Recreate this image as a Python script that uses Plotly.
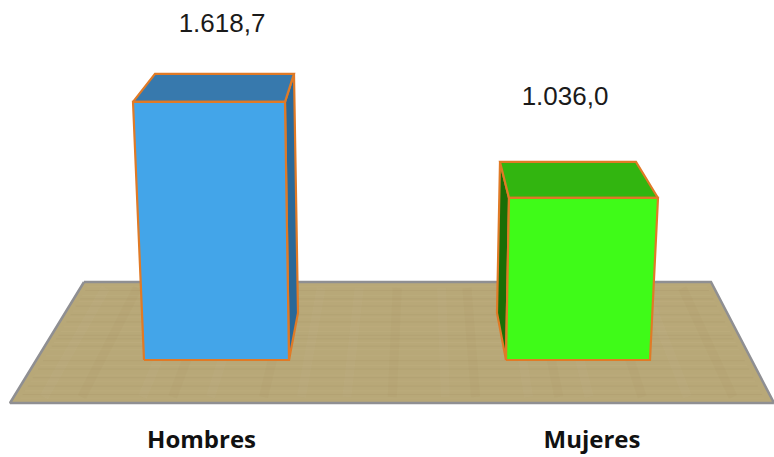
"""Barras 3D de Hombres / Mujeres sobre una base de madera, con Plotly 2D."""

import plotly.graph_objects as go

categories = ["Hombres", "Mujeres"]
values = [1618.7, 1036.0]

front_colors = ["#43a5e9", "#3ffb18"]
top_colors = ["#3779ad", "#32b510"]
side_colors = ["#2a6898", "#1a6e06"]
edge_color = "#e07a26"

# unidades de valor por pixel: el eje y va en valores, con 0 en la base de las barras
PX_PER_UNIT = 0.158
BASE_PX = 360
PLOT_BOTTOM_PX = 405
# la perspectiva estira un poco cada barra respecto a la escala comun
stretch = [1.009, 0.990]

# geometria de cada caja en pixeles de x: frente abajo/arriba
front_bottom = [(144, 289), (506, 650)]
front_top = [(133, 285), (509, 658)]
top_back = [(155, 294), (500, 636)]
top_depth = [28, 36]
# cara lateral: x arriba, x del quiebre, x abajo, y del quiebre
side_outer = [(294, 298, 289, 313), (500, 497, 506, 313)]

label_x = [222, 565]
label_px = [25, 98]
tick_x = [201.5, 592]

# base de madera
floor_top = (84, 711, 282)
floor_bottom = (10, 774, 403)
floor_color = "#b8a878"
floor_edge = "#8f8f92"
# vetas finas (profundidad) y manchas anchas (ancho) de la madera
grain_rows_light = [0.04, 0.11, 0.16, 0.24, 0.29, 0.37, 0.41, 0.5, 0.56, 0.61, 0.69, 0.77, 0.82, 0.9, 0.96]
grain_rows_dark = [0.07, 0.14, 0.2, 0.27, 0.33, 0.44, 0.47, 0.53, 0.65, 0.72, 0.79, 0.86, 0.93]
band_cols_light = [0.04, 0.17, 0.26, 0.38, 0.44, 0.57, 0.68, 0.76, 0.89]
band_cols_dark = [0.09, 0.21, 0.33, 0.5, 0.61, 0.72, 0.83, 0.95]


def px_to_value(py):
    """Convierte una posicion vertical en pixeles a unidades del eje y."""
    return (BASE_PX - py) / PX_PER_UNIT


def format_es(value):
    """Da formato 1.618,7 a un valor."""
    return f"{value:,.1f}".replace(",", "#").replace(".", ",").replace("#", ".")


def polygon(points, fill, line_color=None, line_width=2.2):
    """Devuelve una cara rellena a partir de puntos (x, y en valores)."""
    xs = [p[0] for p in points] + [points[0][0]]
    ys = [p[1] for p in points] + [points[0][1]]
    return go.Scatter(
        x=xs,
        y=ys,
        mode="lines",
        fill="toself",
        fillcolor=fill,
        line=dict(color=line_color or fill, width=line_width),
        hoverinfo="skip",
    )


def floor_x(depth, across):
    """Posicion x de un punto de la base segun profundidad y ancho."""
    left = floor_top[0] + (floor_bottom[0] - floor_top[0]) * depth
    right = floor_top[1] + (floor_bottom[1] - floor_top[1]) * depth
    return left + (right - left) * across


def floor_y(depth):
    return px_to_value(floor_top[2] + (floor_bottom[2] - floor_top[2]) * depth)


def row_trace(rows, color):
    """Vetas finas a lo ancho de la base."""
    xs, ys = [], []
    for d in rows:
        xs += [floor_x(d, 0.01), floor_x(d, 0.99), None]
        ys += [floor_y(d), floor_y(d), None]
    return go.Scatter(
        x=xs, y=ys, mode="lines", line=dict(color=color, width=1), hoverinfo="skip"
    )


def band_trace(cols, color):
    """Manchas anchas en el sentido de la profundidad."""
    xs, ys = [], []
    for c in cols:
        xs += [floor_x(0.05, c), floor_x(0.95, c), None]
        ys += [floor_y(0.05), floor_y(0.95), None]
    return go.Scatter(
        x=xs, y=ys, mode="lines", line=dict(color=color, width=9), hoverinfo="skip"
    )


fig = go.Figure()

floor_points = [
    (floor_top[0], floor_y(0)),
    (floor_top[1], floor_y(0)),
    (floor_bottom[1], floor_y(1)),
    (floor_bottom[0], floor_y(1)),
]
fig.add_trace(polygon(floor_points, floor_color, floor_edge, 2.5))
fig.add_trace(band_trace(band_cols_light, "rgba(205,195,160,0.08)"))
fig.add_trace(band_trace(band_cols_dark, "rgba(165,145,85,0.09)"))
fig.add_trace(row_trace(grain_rows_light, "rgba(210,198,160,0.12)"))
fig.add_trace(row_trace(grain_rows_dark, "rgba(140,122,80,0.10)"))

for i, value in enumerate(values):
    top_y = value * stretch[i]
    back_y = top_y + top_depth[i] / PX_PER_UNIT
    fb, ft, tb = front_bottom[i], front_top[i], top_back[i]
    outer_top, outer_mid, outer_low, mid_px = side_outer[i]
    # cara lateral a la derecha en la primera barra, a la izquierda en la segunda
    near_top = ft[1] if i == 0 else ft[0]
    near_low = fb[1] if i == 0 else fb[0]
    fig.add_trace(
        polygon(
            [
                (near_top, top_y),
                (outer_top, back_y),
                (outer_mid, px_to_value(mid_px)),
                (outer_low, 0),
                (near_low, 0),
            ],
            side_colors[i],
            edge_color,
        )
    )
    fig.add_trace(
        polygon(
            [(ft[0], top_y), (tb[0], back_y), (tb[1], back_y), (ft[1], top_y)],
            top_colors[i],
            edge_color,
        )
    )
    fig.add_trace(
        polygon(
            [(fb[0], 0), (fb[1], 0), (ft[1], top_y), (ft[0], top_y)],
            front_colors[i],
            edge_color,
        )
    )

fig.add_trace(
    go.Scatter(
        x=label_x,
        y=[px_to_value(p) for p in label_px],
        mode="text",
        text=[format_es(v) for v in values],
        textposition="middle center",
        textfont=dict(family="Liberation Sans", size=26, color="#1a1a1a"),
        hoverinfo="skip",
    )
)

fig.update_layout(
    width=774,
    height=457,
    margin=dict(l=0, r=0, t=0, b=457 - PLOT_BOTTOM_PX),
    paper_bgcolor="white",
    plot_bgcolor="white",
    showlegend=False,
    xaxis=dict(
        range=[0, 774],
        showgrid=False,
        zeroline=False,
        showline=False,
        tickvals=tick_x,
        ticktext=categories,
        ticks="",
        ticklabelstandoff=18,
        tickfont=dict(family="Open Sans", size=24, color="#111111", weight=700),
        fixedrange=True,
    ),
    yaxis=dict(
        range=[px_to_value(PLOT_BOTTOM_PX), px_to_value(0)],
        visible=False,
        fixedrange=True,
    ),
)

fig.write_html(
    "out.html",
    config={"displayModeBar": False},
    post_script="document.body.style.margin = '0';",
)
